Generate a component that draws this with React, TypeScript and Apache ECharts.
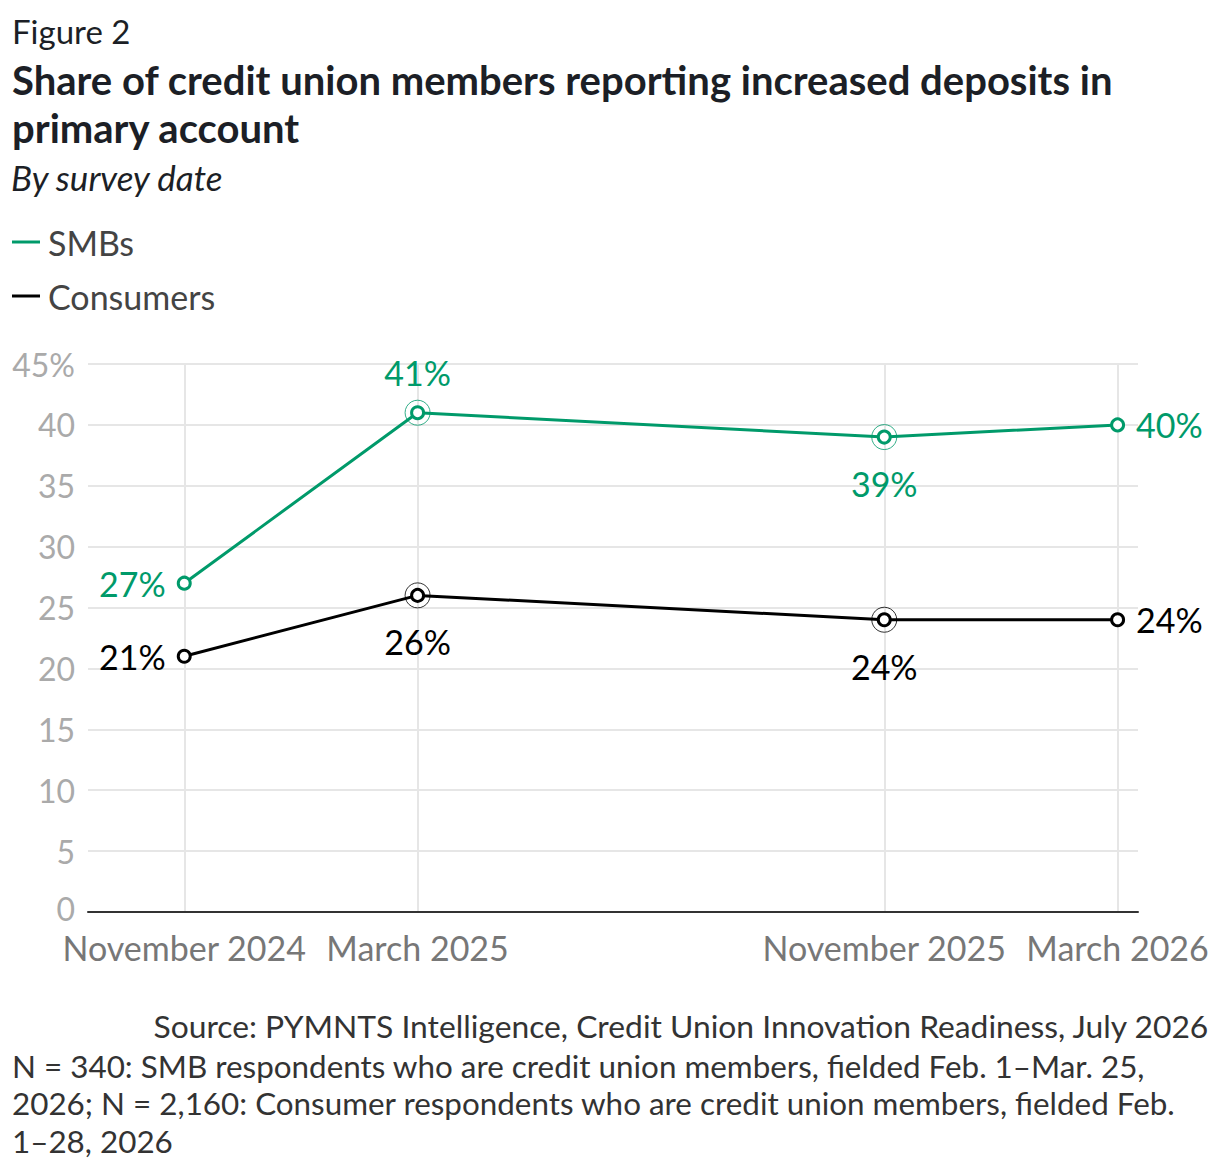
import React, { useEffect, useRef } from "react";
import * as echarts from "echarts";

const monthIndex = [0, 4, 12, 16];
const dateLabels = ["November 2024", "March 2025", "November 2025", "March 2026"];
const smbValues = [27, 41, 39, 40];
const consumerValues = [21, 26, 24, 24];
const highlighted = [1, 2];
const yTicks = [0, 5, 10, 15, 20, 25, 30, 35, 40, 45];

const GREEN = "#009a6a";
const BLACK = "#000000";
const FONT = "Lato, 'Noto Sans', sans-serif";

const smbLabelPos = ["left", "top", "bottom", "right"];
const consLabelPos = ["left", "bottom", "bottom", "right"];

function buildData(values: number[], positions: string[], color: string) {
  return values.map((v, i) => ({
    value: [monthIndex[i], v],
    label: {
      show: true,
      position: positions[i],
      distance: positions[i] === "bottom" ? 22 : positions[i] === "top" ? 16 : 11,
      formatter: `${v}%`,
      color,
      fontSize: 34,
      fontFamily: FONT,
    },
  }));
}

function ringData(values: number[]) {
  return highlighted.map((i) => [monthIndex[i], values[i]]);
}

export default function App() {
  const ref = useRef<HTMLDivElement>(null);
  useEffect(() => {
    document.body.style.margin = "0";
    const chart = echarts.init(ref.current!, null, { renderer: "svg" });
    const labelFor = (v: number) => {
      const idx = monthIndex.indexOf(Math.round(v));
      return idx >= 0 ? dateLabels[idx] : "";
    };
    const yLabel = (v: number) => {
      if (v === yTicks[yTicks.length - 1]) return `${v}%`;
      if (v === yTicks[0]) return `{zero|${v}}`;
      return `${v}`;
    };
    chart.setOption({
      animation: false,
      backgroundColor: "#ffffff",
      textStyle: { fontFamily: FONT },
      legend: {
        orient: "vertical",
        left: 12,
        top: 225,
        padding: 0,
        itemGap: 20,
        itemWidth: 28,
        itemHeight: 3,
        icon: "rect",
        textStyle: {
          fontSize: 34,
          color: "#444",
          fontFamily: FONT,
          lineHeight: 34,
          padding: [0, 0, 0, 3],
        },
        data: [
          { name: "SMBs", itemStyle: { color: GREEN, borderWidth: 0 } },
          { name: "Consumers", itemStyle: { color: BLACK, borderWidth: 0 } },
        ],
      },
      graphic: [
        {
          type: "text",
          left: 12,
          top: 14,
          style: { text: "Figure 2", fontSize: 33, fill: "#1c1f26", fontFamily: FONT },
        },
        {
          type: "text",
          left: 12,
          top: 56,
          style: {
            text: "Share of credit union members reporting increased deposits in\nprimary account",
            fontSize: 40,
            lineHeight: 48,
            fontWeight: "bold",
            fill: "#1c1f26",
            fontFamily: FONT,
          },
        },
        {
          type: "text",
          left: 11,
          top: 159,
          style: {
            text: "By survey date",
            fontSize: 35,
            fontStyle: "italic",
            fill: "#1c1f26",
            fontFamily: FONT,
          },
        },
        {
          type: "text",
          right: 10,
          top: 1010,
          style: {
            text: "Source: PYMNTS Intelligence, Credit Union Innovation Readiness, July 2026",
            fontSize: 31.8,
            fill: "#333",
            fontFamily: FONT,
          },
        },
        {
          type: "text",
          left: 12,
          top: 1047,
          style: {
            text:
              "N = 340: SMB respondents who are credit union members, fielded Feb. 1–Mar. 25,\n2026; N = 2,160: Consumer respondents who are credit union members, fielded Feb.\n1–28, 2026",
            fontSize: 31.4,
            lineHeight: 37.5,
            fill: "#333",
            fontFamily: FONT,
          },
        },
      ],
      grid: { left: 88, right: 82, top: 364, bottom: 260, outerBoundsMode: "none" },
      xAxis: {
        type: "value",
        min: -1.65,
        max: 16.35,
        axisLine: { show: true, lineStyle: { color: "#333", width: 2 } },
        axisTick: { show: false, customValues: monthIndex },
        axisLabel: {
          customValues: monthIndex,
          formatter: (v: number) => labelFor(v),
          color: "#777",
          fontSize: 34,
          lineHeight: 26,
          fontFamily: FONT,
          margin: 22,
        },
        splitLine: { show: true, lineStyle: { color: "#e6e6e6", width: 2 } },
      },
      yAxis: {
        type: "value",
        min: 0,
        max: 45,
        interval: 5,
        axisLine: { show: false },
        axisTick: { show: false },
        axisLabel: {
          formatter: yLabel,
          color: "#aaa",
          fontSize: 32,
          lineHeight: 26,
          fontFamily: FONT,
          margin: 13,
          rich: {
            zero: {
              color: "#aaa",
              fontSize: 32,
              lineHeight: 26,
              fontFamily: FONT,
              padding: [0, 0, 8, 0],
            },
          },
        },
        splitLine: { show: true, lineStyle: { color: "#e6e6e6", width: 2 } },
      },
      series: [
        {
          name: "SMBs",
          type: "line",
          data: buildData(smbValues, smbLabelPos, GREEN),
          symbol: "circle",
          symbolSize: 12,
          lineStyle: { color: GREEN, width: 3 },
          itemStyle: { color: "#fff", borderColor: GREEN, borderWidth: 3 },
          z: 3,
        },
        {
          name: "Consumers",
          type: "line",
          data: buildData(consumerValues, consLabelPos, BLACK),
          symbol: "circle",
          symbolSize: 12,
          lineStyle: { color: BLACK, width: 3 },
          itemStyle: { color: "#fff", borderColor: BLACK, borderWidth: 3 },
          z: 3,
        },
        {
          name: "SMBs ring",
          type: "scatter",
          data: ringData(smbValues),
          symbol: "circle",
          symbolSize: 25,
          itemStyle: { color: "rgba(0,0,0,0)", borderColor: GREEN, borderWidth: 1 },
          silent: true,
          z: 2,
        },
        {
          name: "Consumers ring",
          type: "scatter",
          data: ringData(consumerValues),
          symbol: "circle",
          symbolSize: 25,
          itemStyle: { color: "rgba(0,0,0,0)", borderColor: BLACK, borderWidth: 1 },
          silent: true,
          z: 2,
        },
      ],
    });
    return () => chart.dispose();
  }, []);
  return (
    <div
      ref={ref}
      style={{ position: "absolute", left: 0, top: 0, width: 1220, height: 1172 }}
    />
  );
}
